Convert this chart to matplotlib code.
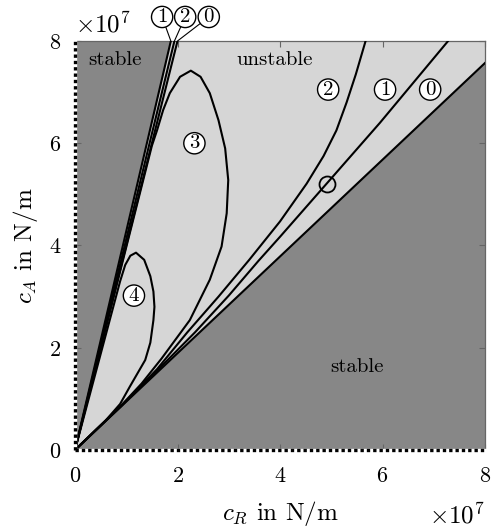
import matplotlib
matplotlib.use('Agg')
import matplotlib.pyplot as plt

plt.rcParams['font.family'] = 'serif'
plt.rcParams['font.serif'] = ['cmr10']
plt.rcParams['mathtext.fontset'] = 'cm'
plt.rcParams['axes.formatter.use_mathtext'] = True
plt.rcParams['axes.unicode_minus'] = False

# all values in units of 1e7 N/m
# straight boundary lines
lo0_x = [0.0, 8.0]
lo0_y = [0.0, 7.57]
up0_x = [0.0, 2.0]
up0_y = [0.0, 8.0]

# curve 1 (upper branch -> origin -> lower branch)
c1_x = [1.87, 0.0, 0.9, 1.6, 2.34, 3.0, 3.58, 4.0, 4.91, 5.95, 7.28]
c1_y = [8.0, 0.0, 0.86, 1.55, 2.3, 3.02, 3.70, 4.17, 5.21, 6.40, 8.0]

# curve 2
c2_x = [1.94, 0.0, 0.9, 1.6, 2.19, 2.8, 3.4, 4.0, 4.52, 4.85, 5.10, 5.30, 5.48, 5.67]
c2_y = [8.0, 0.0, 0.86, 1.58, 2.3, 3.0, 3.72, 4.47, 5.21, 5.75, 6.25, 6.80, 7.35, 8.0]

# curve 3 (closed loop)
c3_x = [0.0, 0.9, 1.3, 1.69, 2.24, 2.63, 2.86, 2.96, 2.99, 2.93, 2.80, 2.63, 2.45,
        2.26, 2.05, 1.85, 1.72, 1.60, 1.50, 0.0]
c3_y = [0.0, 0.87, 1.3, 1.79, 2.54, 3.33, 3.98, 4.63, 5.28, 5.90, 6.45, 6.98, 7.30,
        7.42, 7.30, 6.98, 6.65, 6.25, 5.95, 0.0]

# curve 4 (closed loop)
c4_x = [0.0, 0.6, 0.88, 1.07, 1.37, 1.47, 1.53, 1.55, 1.53, 1.47, 1.35, 1.19, 1.08,
        0.98, 0.88, 0.0]
c4_y = [0.0, 0.58, 0.9, 1.24, 1.76, 2.1, 2.54, 2.8, 3.1, 3.4, 3.72, 3.86, 3.8,
        3.62, 3.3, 0.0]

# marked point on curve 1
pt_x = [4.91]
pt_y = [5.21]

ticks = [0, 2, 4, 6, 8]
XMAX = 8
YMAX = 8

DARK = '#878787'
LIGHT = '#d6d6d6'

fig = plt.figure(figsize=(4.92, 5.31), dpi=100)
ax = fig.add_axes([75 / 492, 81 / 531, 410 / 492, 409 / 531])
ax.set_facecolor(DARK)

# unstable region between the leftmost upper line and lower line 0
ax.fill([0, c1_x[0], XMAX, lo0_x[-1]], [0, c1_y[0], YMAX, lo0_y[-1]],
        color=LIGHT, lw=0, zorder=1)

lw = 1.5
ax.plot(lo0_x, lo0_y, 'k', lw=lw, zorder=3)
ax.plot(up0_x, up0_y, 'k', lw=lw, zorder=3)
ax.plot(c1_x, c1_y, 'k', lw=lw, zorder=3)
ax.plot(c2_x, c2_y, 'k', lw=lw, zorder=3)
ax.plot(c3_x, c3_y, 'k', lw=lw, zorder=3)
ax.plot(c4_x, c4_y, 'k', lw=lw, zorder=3)
ax.plot(pt_x, pt_y, 'o', mfc='none', mec='k', ms=11.5, mew=1.3, zorder=4)

# dotted stability borders on the axes
for fn in (ax.axvline, ax.axhline):
    fn(0, color='white', lw=2.4, zorder=5, clip_on=False)
    fn(0, color='k', lw=2.4, ls=(0, (1, 0.9)), zorder=6, clip_on=False)

circ = dict(boxstyle='circle,pad=0.08', fc='white', ec='k', lw=1.0)
fs_c = 15
ax.text(4.94, 7.05, '2', ha='center', va='center', fontsize=fs_c, bbox=circ, zorder=7)
ax.text(6.05, 7.05, '1', ha='center', va='center', fontsize=fs_c, bbox=circ, zorder=7)
ax.text(6.93, 7.05, '0', ha='center', va='center', fontsize=fs_c, bbox=circ, zorder=7)
ax.text(2.33, 6.0, '3', ha='center', va='center', fontsize=fs_c, bbox=circ, zorder=7)
ax.text(1.15, 3.02, '4', ha='center', va='center', fontsize=fs_c, bbox=circ, zorder=7)

# labels above the axes with leader lines
for lab, tx, px in (('1', 1.70, c1_x[0]), ('2', 2.15, c2_x[0]), ('0', 2.61, up0_x[-1])):
    ax.annotate(lab, xy=(px, YMAX), xytext=(tx, 8.47), ha='center', va='center',
                fontsize=fs_c, bbox=circ, annotation_clip=False,
                arrowprops=dict(arrowstyle='-', color='k', lw=0.8,
                                shrinkA=0, shrinkB=0))

ax.text(0.78, 7.63, 'stable', ha='center', va='center', fontsize=15, zorder=7)
ax.text(3.9, 7.63, 'unstable', ha='center', va='center', fontsize=15, zorder=7)
ax.text(5.5, 1.62, 'stable', ha='center', va='center', fontsize=15, zorder=7)

ax.set_xlim(0, XMAX)
ax.set_ylim(0, YMAX)
ax.set_xticks(ticks)
ax.set_yticks(ticks)
ax.tick_params(direction='in', length=4, color='0.4', top=True, right=True,
               labelsize=16)
ax.tick_params(axis='x', pad=12)
ax.tick_params(axis='y', pad=10)
for s in ('top', 'right'):
    ax.spines[s].set_color('0.4')
    ax.spines[s].set_linewidth(0.9)

ax.set_xlabel(r'$c_R$ in N/m', fontsize=18)
ax.set_ylabel(r'$c_A$ in N/m', fontsize=18)
ax.xaxis.set_label_coords(0.5, -0.12)
ax.yaxis.set_label_coords(-0.085, 0.5)

ax.text(1.0, -0.128, r'$\times10^7$', transform=ax.transAxes, ha='right',
        va='top', fontsize=18)
ax.text(0.0, 1.01, r'$\times10^7$', transform=ax.transAxes, ha='left',
        va='bottom', fontsize=18)

fig.savefig('out.png', dpi=100)
